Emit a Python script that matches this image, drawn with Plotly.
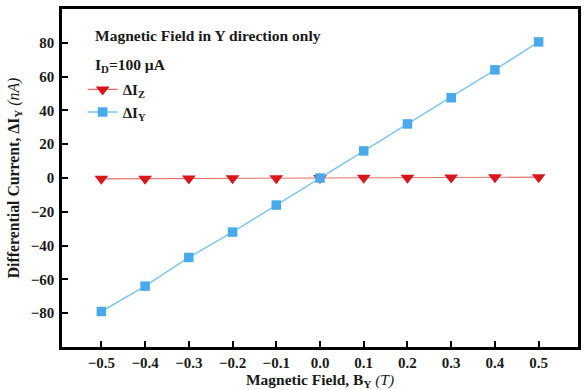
import plotly.graph_objects as go

field = [-0.5, -0.4, -0.3, -0.2, -0.1, 0.0, 0.1, 0.2, 0.3, 0.4, 0.5]
delta_iz = [-0.5, -0.4, -0.3, -0.2, -0.1, 0.0, 0.1, 0.2, 0.3, 0.4, 0.5]
delta_iy = [-79, -64, -47, -32, -16, 0, 16, 32, 47.5, 64, 80.5]
x_ticks = [-0.5, -0.4, -0.3, -0.2, -0.1, 0.0, 0.1, 0.2, 0.3, 0.4, 0.5]
x_tick_labels = ["\u22120.5", "\u22120.4", "\u22120.3", "\u22120.2", "\u22120.1", "0.0", "0.1", "0.2", "0.3", "0.4", "0.5"]
y_ticks = [-80, -60, -40, -20, 0, 20, 40, 60, 80]
y_tick_labels = ["\u221280", "\u221260", "\u221240", "\u221220", "0", "20", "40", "60", "80"]

FONT = "Liberation Serif"
TXT = "#1a1a1a"

fig = go.Figure()
fig.add_trace(go.Scatter(
    x=field, y=delta_iz, mode="lines+markers", name="<b>\u0394I<sub>Z</sub></b>",
    line=dict(color="#e8706a", width=1.2),
    marker=dict(symbol="triangle-down", size=12, color="#d8161b"),
))
fig.add_trace(go.Scatter(
    x=field, y=delta_iy, mode="lines+markers", name="<b>\u0394I<sub>Y</sub></b>",
    line=dict(color="#7fc6ea", width=1.5),
    marker=dict(symbol="square", size=9.5, color="#48aaea"),
))

axis_common = dict(
    showline=True, linecolor="black", linewidth=2.5, mirror=True,
    ticks="inside", ticklen=6, tickwidth=2, tickcolor="black",
    showgrid=False, zeroline=False,
    tickfont=dict(family=FONT, size=15, color=TXT, weight="bold"),
)

fig.update_layout(
    width=587, height=390,
    margin=dict(l=62, r=6, t=6, b=42),
    plot_bgcolor="white", paper_bgcolor="white",
    font=dict(family=FONT, color=TXT),
    xaxis=dict(range=[-0.59, 0.59], tickvals=x_ticks, ticktext=x_tick_labels,
               title=dict(text="<b>Magnetic Field, B<sub>Y</sub> </b><i>(T)</i>", font=dict(family=FONT, size=15.5, color=TXT), standoff=2),
               **axis_common),
    yaxis=dict(range=[-100, 100], tickvals=y_ticks, ticktext=y_tick_labels,
               ticklabelstandoff=2,
               title=dict(text="<b>Differential Current, \u0394I<sub>Y</sub> </b><i>(nA)</i>", font=dict(family=FONT, size=15.8, color=TXT), standoff=8),
               **axis_common),
    legend=dict(x=0.04, y=0.81, xanchor="left", yanchor="top",
                font=dict(family=FONT, size=15, color=TXT),
                bgcolor="rgba(0,0,0,0)", tracegroupgap=0, itemwidth=30),
    showlegend=True,
    annotations=[
        dict(text="<b>Magnetic Field in Y direction only</b>", xref="paper", yref="paper",
             x=0.06, y=0.921, xanchor="left", yanchor="middle", showarrow=False,
             font=dict(family=FONT, size=15.5, color=TXT)),
        dict(text="<b>I<sub>D</sub>=100 \u00b5A</b>", xref="paper", yref="paper",
             x=0.06, y=0.833, xanchor="left", yanchor="middle", showarrow=False,
             font=dict(family=FONT, size=15.5, color=TXT)),
    ],
)

fig.write_html("out.html")
